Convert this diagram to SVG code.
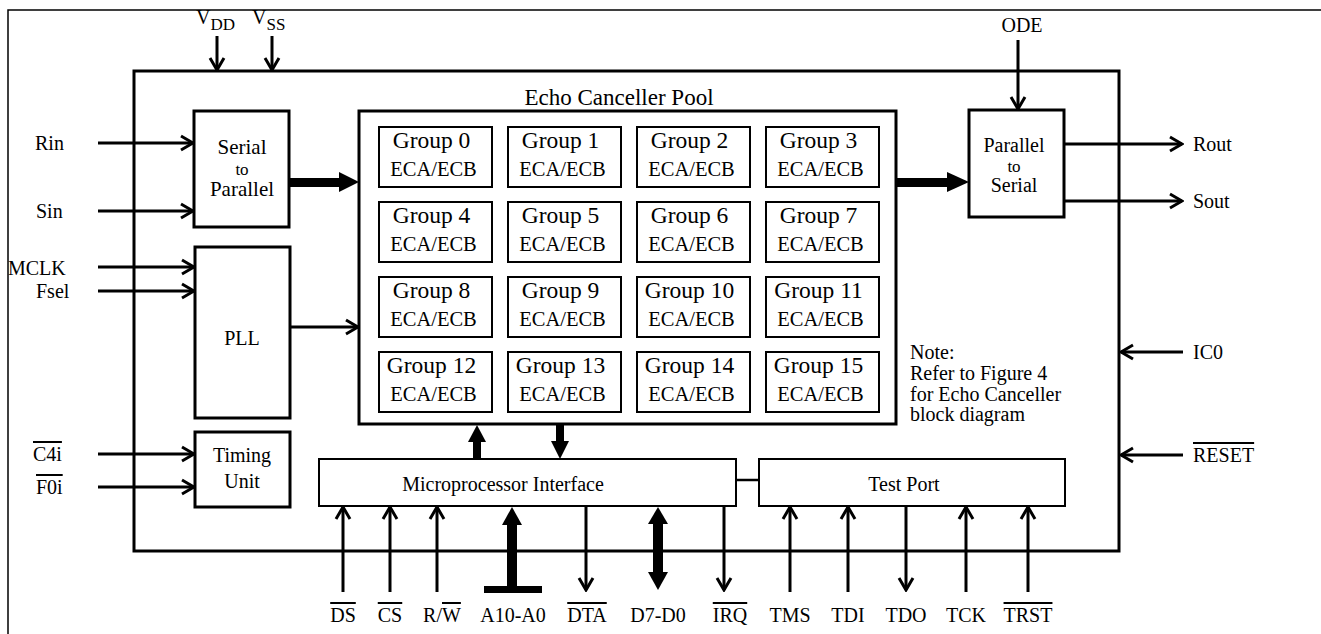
<svg xmlns="http://www.w3.org/2000/svg" width="1321" height="634" viewBox="0 0 1321 634" font-family="'Liberation Serif', 'Times New Roman', serif">
<style>
text{font-family:"Liberation Serif","Times New Roman",serif;fill:#000;font-size:20px}
.c{text-anchor:middle}
.ol{text-decoration:overline}
.frame{fill:none;stroke:#000;stroke-width:1.5}
.thick{fill:#fff;stroke:#000;stroke-width:3}
.thin{fill:#fff;stroke:#000;stroke-width:2}
.w{stroke:#000;stroke-width:3;fill:none;marker-end:url(#ah)}
.wn{stroke:#000;stroke-width:2.5;fill:none}
.bus{fill:#000;stroke:none}
.g{font-size:23.5px}
.e{font-size:20.5px}
.sm{font-size:17px}
.sub{font-size:17px}
</style>
<defs>
<marker id="ah" viewBox="0 0 16 18" refX="14" refY="9" markerWidth="16" markerHeight="18" orient="auto" markerUnits="userSpaceOnUse">
<path d="M2,2 L14,9 L2,16" fill="none" stroke="#000" stroke-width="3"/>
</marker>
</defs>
<rect width="1321" height="634" fill="#fff"/>
<path class="frame" d="M8,634 V10 H1321"/>

<g id="chip"><rect class="thick" x="134" y="71" width="985" height="480"/></g>

<g id="s2p"><rect class="thick" x="194" y="111" width="95" height="116"/>
<text class="c" x="242" y="154" style="font-size:21px">Serial</text><text class="c sm" x="242" y="175">to</text><text class="c" x="242" y="196" style="font-size:21px">Parallel</text></g>

<g id="pll"><rect class="thick" x="195" y="247" width="95" height="171"/><text class="c" x="242" y="345">PLL</text></g>

<g id="timing"><rect class="thick" x="195" y="432" width="95" height="75"/><text class="c" x="242" y="462">Timing</text><text class="c" x="242" y="488">Unit</text></g>

<g id="pool"><rect class="thick" x="359" y="111" width="537" height="313"/><text class="c" x="619" y="105" style="font-size:23px">Echo Canceller Pool</text></g>

<g id="group0"><rect class="thin" x="379" y="127" width="113" height="60"/><text class="c g" x="431.5" y="148">Group 0</text><text class="c e" x="433.5" y="176">ECA/ECB</text></g>
<g id="group1"><rect class="thin" x="508" y="127" width="113" height="60"/><text class="c g" x="560.5" y="148">Group 1</text><text class="c e" x="562.5" y="176">ECA/ECB</text></g>
<g id="group2"><rect class="thin" x="637" y="127" width="113" height="60"/><text class="c g" x="689.5" y="148">Group 2</text><text class="c e" x="691.5" y="176">ECA/ECB</text></g>
<g id="group3"><rect class="thin" x="766" y="127" width="113" height="60"/><text class="c g" x="818.5" y="148">Group 3</text><text class="c e" x="820.5" y="176">ECA/ECB</text></g>
<g id="group4"><rect class="thin" x="379" y="202" width="113" height="60"/><text class="c g" x="431.5" y="223">Group 4</text><text class="c e" x="433.5" y="251">ECA/ECB</text></g>
<g id="group5"><rect class="thin" x="508" y="202" width="113" height="60"/><text class="c g" x="560.5" y="223">Group 5</text><text class="c e" x="562.5" y="251">ECA/ECB</text></g>
<g id="group6"><rect class="thin" x="637" y="202" width="113" height="60"/><text class="c g" x="689.5" y="223">Group 6</text><text class="c e" x="691.5" y="251">ECA/ECB</text></g>
<g id="group7"><rect class="thin" x="766" y="202" width="113" height="60"/><text class="c g" x="818.5" y="223">Group 7</text><text class="c e" x="820.5" y="251">ECA/ECB</text></g>
<g id="group8"><rect class="thin" x="379" y="277" width="113" height="60"/><text class="c g" x="431.5" y="298">Group 8</text><text class="c e" x="433.5" y="326">ECA/ECB</text></g>
<g id="group9"><rect class="thin" x="508" y="277" width="113" height="60"/><text class="c g" x="560.5" y="298">Group 9</text><text class="c e" x="562.5" y="326">ECA/ECB</text></g>
<g id="group10"><rect class="thin" x="637" y="277" width="113" height="60"/><text class="c g" x="689.5" y="298">Group 10</text><text class="c e" x="691.5" y="326">ECA/ECB</text></g>
<g id="group11"><rect class="thin" x="766" y="277" width="113" height="60"/><text class="c g" x="818.5" y="298">Group 11</text><text class="c e" x="820.5" y="326">ECA/ECB</text></g>
<g id="group12"><rect class="thin" x="379" y="352" width="113" height="60"/><text class="c g" x="431.5" y="373">Group 12</text><text class="c e" x="433.5" y="401">ECA/ECB</text></g>
<g id="group13"><rect class="thin" x="508" y="352" width="113" height="60"/><text class="c g" x="560.5" y="373">Group 13</text><text class="c e" x="562.5" y="401">ECA/ECB</text></g>
<g id="group14"><rect class="thin" x="637" y="352" width="113" height="60"/><text class="c g" x="689.5" y="373">Group 14</text><text class="c e" x="691.5" y="401">ECA/ECB</text></g>
<g id="group15"><rect class="thin" x="766" y="352" width="113" height="60"/><text class="c g" x="818.5" y="373">Group 15</text><text class="c e" x="820.5" y="401">ECA/ECB</text></g>

<g id="note"><text x="910" y="359">Note:</text><text x="910" y="380">Refer to Figure 4</text><text x="910" y="401">for Echo Canceller</text><text x="910" y="421">block diagram</text></g>

<g id="p2s"><rect class="thick" x="969" y="110" width="95" height="107"/>
<text class="c" x="1014" y="152">Parallel</text><text class="c sm" x="1014" y="172">to</text><text class="c" x="1014" y="192">Serial</text></g>

<g id="mpi"><rect class="thin" x="319" y="459" width="417" height="47"/><text class="c" x="503" y="491">Microprocessor Interface</text></g>
<g id="testport"><rect class="thin" x="759" y="459" width="306" height="47"/><text class="c" x="904" y="491">Test Port</text></g>

<g id="labels">
<text x="196" y="24">V<tspan class="sub" dy="6">DD</tspan></text>
<text x="252" y="24">V<tspan class="sub" dy="6">SS</tspan></text>
<text class="c" x="1022" y="32">ODE</text>
<text x="35" y="150">Rin</text>
<text x="36" y="218">Sin</text>
<text x="8" y="275">MCLK</text>
<text x="36" y="298">Fsel</text>
<text x="33" y="461" class="ol">C4i</text>
<text x="36" y="494" class="ol">F0i</text>
<text x="1193" y="151">Rout</text>
<text x="1193" y="208">Sout</text>
<text x="1193" y="359">IC0</text>
<text x="1193" y="462" class="ol">RESET</text>
<text class="c ol" x="343" y="622">DS</text>
<text class="c ol" x="390" y="622">CS</text>
<text class="c" x="442" y="622">R/<tspan class="ol">W</tspan></text>
<text class="c" x="513" y="622">A10-A0</text>
<text class="c ol" x="587" y="622">DTA</text>
<text class="c" x="658" y="622">D7-D0</text>
<text class="c ol" x="730" y="622">IRQ</text>
<text class="c" x="790" y="622">TMS</text>
<text class="c" x="848" y="622">TDI</text>
<text class="c" x="906" y="622">TDO</text>
<text class="c" x="966" y="622">TCK</text>
<text class="c ol" x="1028" y="622">TRST</text>
</g>

<g id="connectors">
<path class="w" d="M217,36 V70"/>
<path class="w" d="M272,36 V70"/>
<path class="w" d="M1018,40 V109"/>
<path class="w" d="M98,143 H193"/>
<path class="w" d="M98,211 H193"/>
<path class="w" d="M98,267 H194"/>
<path class="w" d="M98,291 H194"/>
<path class="w" d="M98,454 H194"/>
<path class="w" d="M98,487 H194"/>
<path class="w" d="M290,327 H358"/>
<path class="w" d="M1064,144 H1182"/>
<path class="w" d="M1064,201 H1182"/>
<path class="w" d="M1183,352 H1121"/>
<path class="w" d="M1183,455 H1121"/>
<path class="w" d="M343,592 V507"/>
<path class="w" d="M390,592 V507"/>
<path class="w" d="M437,592 V507"/>
<path class="w" d="M586,506 V590"/>
<path class="w" d="M724,506 V590"/>
<path class="w" d="M790,592 V507"/>
<path class="w" d="M848,592 V507"/>
<path class="w" d="M906,506 V590"/>
<path class="w" d="M966,592 V507"/>
<path class="w" d="M1028,592 V507"/>
<path class="wn" d="M736,480 H759"/>
<rect class="bus" x="289" y="178" width="52" height="9"/>
<polygon class="bus" points="339,172 359,182 339,192"/>
<rect class="bus" x="896" y="178" width="53" height="9"/>
<polygon class="bus" points="947,172 969,182 947,192"/>
<polygon class="bus" points="477,425 486,442 468,442"/>
<rect class="bus" x="473" y="440" width="8" height="19"/>
<rect class="bus" x="556" y="424" width="8" height="19"/>
<polygon class="bus" points="551,441 569,441 560,459"/>
<polygon class="bus" points="512,507 522,525 502,525"/>
<rect class="bus" x="507" y="523" width="10" height="64"/>
<rect class="bus" x="484" y="586" width="58" height="7"/>
<polygon class="bus" points="658,507 668,524 648,524"/>
<rect class="bus" x="653" y="522" width="10" height="52"/>
<polygon class="bus" points="648,572 668,572 658,590"/>
</g>
</svg>
